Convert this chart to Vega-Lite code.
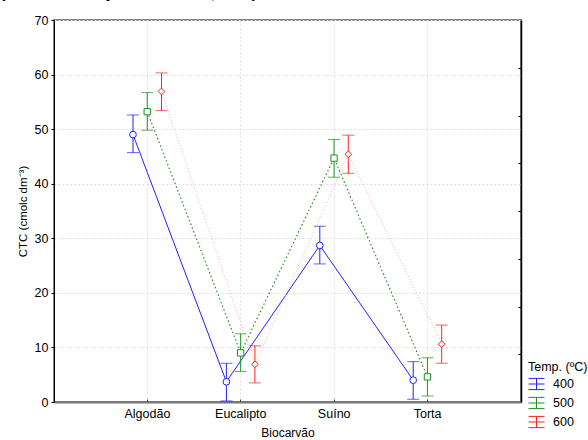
{
  "$schema": "https://vega.github.io/schema/vega-lite/v6.json",
  "width": 467,
  "height": 382,
  "autosize": {"type": "none"},
  "padding": {"left": 54, "top": 20, "right": 67, "bottom": 38},
  "background": "white",
  "title": {
    "text": "(Médias e IC ajustados LSM, 95%)",
    "anchor": "start",
    "frame": "group",
    "orient": "top",
    "offset": 0,
    "dx": -54,
    "baseline": "alphabetic",
    "fontSize": 16,
    "fontWeight": "bold",
    "font": "Liberation Sans",
    "color": "black"
  },
  "config": {
    "font": "Liberation Sans",
    "view": {"stroke": "#808080", "strokeWidth": 2},
    "axis": {"labelFont": "Liberation Sans", "titleFont": "Liberation Sans", "labelColor": "black", "titleColor": "black"}
  },
  "data": {
    "values": [
      {"bio": "Algodão", "temp": "400", "mean": 49.0, "lo": 45.7, "hi": 52.6},
      {"bio": "Algodão", "temp": "500", "mean": 53.2, "lo": 49.8, "hi": 56.7},
      {"bio": "Algodão", "temp": "600", "mean": 56.9, "lo": 53.4, "hi": 60.3},
      {"bio": "Eucalipto", "temp": "400", "mean": 3.7, "lo": 0.2, "hi": 7.1},
      {"bio": "Eucalipto", "temp": "500", "mean": 9.0, "lo": 5.6, "hi": 12.5},
      {"bio": "Eucalipto", "temp": "600", "mean": 6.9, "lo": 3.5, "hi": 10.3},
      {"bio": "Suíno", "temp": "400", "mean": 28.7, "lo": 25.3, "hi": 32.2},
      {"bio": "Suíno", "temp": "500", "mean": 44.7, "lo": 41.2, "hi": 48.1},
      {"bio": "Suíno", "temp": "600", "mean": 45.4, "lo": 41.9, "hi": 48.9},
      {"bio": "Torta", "temp": "400", "mean": 4.0, "lo": 0.5, "hi": 7.4},
      {"bio": "Torta", "temp": "500", "mean": 4.6, "lo": 1.1, "hi": 8.1},
      {"bio": "Torta", "temp": "600", "mean": 10.6, "lo": 7.1, "hi": 14.1}
    ]
  },
  "encoding": {
    "x": {
      "field": "bio",
      "type": "nominal",
      "sort": ["Algodão", "Eucalipto", "Suíno", "Torta"],
      "scale": {"paddingInner": 0, "paddingOuter": 0.5},
      "axis": {
        "title": "Biocarvão",
        "titleFontSize": 12,
        "titleFontWeight": "normal",
        "titlePadding": 8,
        "labelFontSize": 12.5,
        "labelAngle": 0,
        "labelPadding": 8,
        "bandPosition": 0.5,
        "domainColor": "#777777",
        "domainWidth": 2,
        "tickColor": "#333333",
        "tickSize": -3,
        "grid": true,
        "gridColor": "#e0e0e0",
        "gridDash": [2, 2]
      }
    },
    "xOffset": {
      "field": "temp",
      "type": "nominal",
      "scale": {"type": "point", "padding": 0, "domain": ["400", "500", "600"], "range": [32.3, 60.8]}
    }
  },
  "layer": [
    {
      "transform": [{"filter": "datum.temp == '400'"}],
      "mark": {"type": "line", "color": "#2020ff", "strokeWidth": 1},
      "encoding": {
        "y": {
          "field": "mean",
          "type": "quantitative",
          "scale": {"domain": [0, 70], "nice": false},
          "axis": {
            "title": "CTC (cmolc dm⁻³)",
            "titleFontSize": 11.5,
            "titleFontWeight": "normal",
            "titlePadding": 6,
            "labelFontSize": 12.5,
            "labelPadding": 3,
            "tickSize": 3,
            "tickColor": "black",
            "domainColor": "black",
            "values": [0, 10, 20, 30, 40, 50, 60, 70],
            "grid": true,
            "gridColor": "#e0e0e0",
            "gridDash": [2, 2]
          }
        }
      }
    },
    {
      "transform": [{"filter": "datum.temp == '500'"}],
      "mark": {"type": "line", "color": "#2a8a2a", "strokeWidth": 1.2, "strokeDash": [1.5, 2.5]},
      "encoding": {"y": {"field": "mean", "type": "quantitative", "axis": null}}
    },
    {
      "transform": [{"filter": "datum.temp == '600'"}],
      "mark": {"type": "line", "color": "#ffaaaa", "strokeWidth": 1, "strokeDash": [1, 2]},
      "encoding": {"y": {"field": "mean", "type": "quantitative", "axis": null}}
    },
    {
      "mark": {"type": "rule", "strokeWidth": 1},
      "encoding": {
        "y": {
          "field": "lo",
          "type": "quantitative",
          "axis": {
            "orient": "right",
            "title": null,
            "labels": false,
            "grid": false,
            "values": [8.75, 17.5, 26.25, 35, 43.75, 52.5, 61.25],
            "tickSize": -3,
            "tickColor": "black",
            "domainColor": "black",
            "domainWidth": 1.5
          }
        },
        "y2": {"field": "hi"},
        "color": {
          "field": "temp",
          "type": "nominal",
          "scale": {"domain": ["400", "500", "600"], "range": ["#2020ff", "#1e901e", "#ff2020"]},
          "legend": {
            "title": "Temp. (ºC)",
            "orient": "none",
            "legendX": 474,
            "legendY": 341,
            "titleFontSize": 12.5,
            "titleFontWeight": "normal",
            "titleColor": "black",
            "titlePadding": 2,
            "labelFontSize": 12.5,
            "labelColor": "black",
            "labelOffset": 8,
            "rowPadding": 2,
            "symbolType": "M-1,-0.7H1M-1,0.7H1M0,-0.7V0.7M-1,0H1",
            "symbolSize": 256,
            "symbolStrokeWidth": 1,
            "symbolFillColor": "transparent"
          }
        }
      }
    },
    {
      "mark": {"type": "tick", "size": 12, "thickness": 1},
      "encoding": {
        "y": {"field": "lo", "type": "quantitative", "axis": null},
        "color": {"field": "temp", "type": "nominal", "legend": null}
      }
    },
    {
      "mark": {"type": "tick", "size": 12, "thickness": 1},
      "encoding": {
        "y": {"field": "hi", "type": "quantitative", "axis": null},
        "color": {"field": "temp", "type": "nominal", "legend": null}
      }
    },
    {
      "transform": [{"filter": "datum.temp == '400'"}],
      "mark": {"type": "point", "shape": "circle", "filled": false, "fill": "white", "fillOpacity": 1, "stroke": "#2020ff", "size": 45, "strokeWidth": 1, "opacity": 1},
      "encoding": {"y": {"field": "mean", "type": "quantitative", "axis": null}}
    },
    {
      "transform": [{"filter": "datum.temp == '500'"}],
      "mark": {"type": "point", "shape": "square", "filled": false, "fill": "white", "fillOpacity": 1, "stroke": "#1e901e", "size": 40, "strokeWidth": 1, "opacity": 1},
      "encoding": {"y": {"field": "mean", "type": "quantitative", "axis": null}}
    },
    {
      "transform": [{"filter": "datum.temp == '600'"}],
      "mark": {"type": "point", "shape": "diamond", "filled": false, "fill": "white", "fillOpacity": 1, "stroke": "#ff2020", "size": 45, "strokeWidth": 1, "opacity": 1},
      "encoding": {"y": {"field": "mean", "type": "quantitative", "axis": null}}
    }
  ],
  "resolve": {"axis": {"y": "independent"}}
}
